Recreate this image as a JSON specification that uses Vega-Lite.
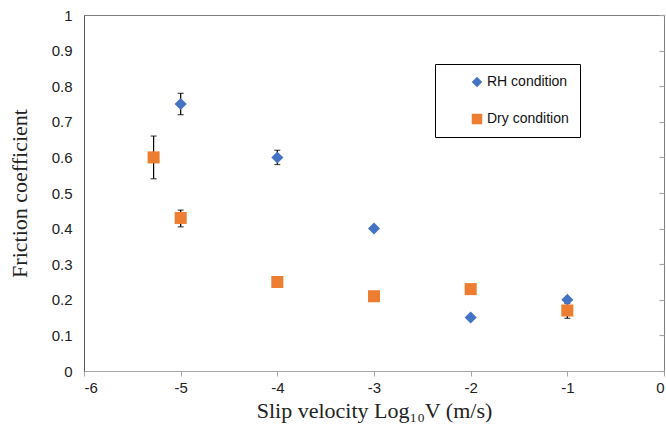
{
  "$schema": "https://vega.github.io/schema/vega-lite/v6.json",
  "width": 580,
  "height": 356,
  "autosize": {"type": "none"},
  "padding": {"left": 84, "top": 15, "right": 2, "bottom": 60},
  "background": "white",
  "config": {
    "view": {"stroke": "#7f7f7f", "strokeWidth": 1},
    "axis": {"grid": false, "labelFont": "Liberation Sans", "labelFontSize": 15, "labelColor": "#222222", "titleFont": "Liberation Serif", "titleFontSize": 22, "titleFontWeight": "normal", "titleColor": "#222222"}
  },
  "data": {
    "values": [
      {"series": "RH condition", "x": -5, "y": 0.75, "lo": 0.72, "hi": 0.78},
      {"series": "RH condition", "x": -4, "y": 0.60, "lo": 0.58, "hi": 0.62},
      {"series": "RH condition", "x": -3, "y": 0.40, "lo": null, "hi": null},
      {"series": "RH condition", "x": -2, "y": 0.15, "lo": null, "hi": null},
      {"series": "RH condition", "x": -1, "y": 0.20, "lo": null, "hi": null},
      {"series": "Dry condition", "x": -5.28, "y": 0.60, "lo": 0.54, "hi": 0.66},
      {"series": "Dry condition", "x": -5, "y": 0.43, "lo": 0.405, "hi": 0.452},
      {"series": "Dry condition", "x": -4, "y": 0.25, "lo": null, "hi": null},
      {"series": "Dry condition", "x": -3, "y": 0.21, "lo": null, "hi": null},
      {"series": "Dry condition", "x": -2, "y": 0.23, "lo": null, "hi": null},
      {"series": "Dry condition", "x": -1, "y": 0.17, "lo": 0.148, "hi": 0.19}
    ]
  },
  "resolve": {"axis": {"y": "independent"}},
  "layer": [
    {
      "transform": [{"filter": "isValid(datum.lo)"}],
      "mark": {"type": "errorbar", "color": "black", "ticks": {"size": 6, "thickness": 1.2}, "rule": {"strokeWidth": 1.2}},
      "encoding": {
        "x": {"field": "x", "type": "quantitative", "scale": {"domain": [-6, 0], "nice": false}, "title": "Slip velocity Log₁₀V (m/s)",
          "axis": {"values": [-6, -5, -4, -3, -2, -1, 0], "labelExpr": "datum.value < 0 ? '-' + abs(datum.value) : '' + datum.value", "domainColor": "#a6a6a6", "tickColor": "#a6a6a6", "tickSize": 5, "labelPadding": 4, "titlePadding": 5}},
        "y": {"field": "lo", "type": "quantitative", "scale": {"domain": [0, 1], "nice": false}, "title": "Friction coefficient", "axis": null},
        "y2": {"field": "hi"}
      }
    },
    {
      "mark": {"type": "point", "filled": true, "opacity": 1, "strokeWidth": 0},
      "encoding": {
        "x": {"field": "x", "type": "quantitative", "scale": {"domain": [-6, 0], "nice": false}, "title": "Slip velocity Log₁₀V (m/s)",
          "axis": {"values": [-6, -5, -4, -3, -2, -1, 0], "labelExpr": "datum.value < 0 ? '-' + abs(datum.value) : '' + datum.value", "domainColor": "#a6a6a6", "tickColor": "#a6a6a6", "tickSize": 5, "labelPadding": 4, "titlePadding": 5}},
        "y": {"field": "y", "type": "quantitative", "scale": {"domain": [0, 1], "nice": false}, "title": "Friction coefficient",
          "axis": {"values": [0, 0.1, 0.2, 0.3, 0.4, 0.5, 0.6, 0.7, 0.8, 0.9, 1], "format": ".1~f", "domainColor": "#595959", "tickSize": 0, "labelPadding": 12, "titlePadding": 20}},
        "color": {"field": "series", "type": "nominal", "scale": {"domain": ["RH condition", "Dry condition"], "range": ["#4472C4", "#ED7D31"]},
          "legend": {"orient": "none", "legendX": 351, "legendY": 49, "title": null, "strokeColor": "black", "fillColor": "white", "padding": 11, "rowPadding": 23, "symbolOffset": 24, "symbolSize": 110, "symbolStrokeWidth": 0, "labelOffset": 3, "labelFont": "Liberation Sans", "labelFontSize": 14, "labelColor": "#111111", "labelExpr": "datum.label + '\u00a0\u00a0\u00a0\u00a0\u00a0\u00a0\u00a0'"}},
        "shape": {"field": "series", "type": "nominal", "scale": {"domain": ["RH condition", "Dry condition"], "range": ["diamond", "square"]}},
        "size": {"value": 145}
      }
    },
    {
      "mark": {"type": "point", "opacity": 0},
      "encoding": {
        "x": {"field": "x", "type": "quantitative", "scale": {"domain": [-6, 0], "nice": false}, "title": "Slip velocity Log₁₀V (m/s)",
          "axis": {"values": [-6, -5, -4, -3, -2, -1, 0], "labelExpr": "datum.value < 0 ? '-' + abs(datum.value) : '' + datum.value", "domainColor": "#a6a6a6", "tickColor": "#a6a6a6", "tickSize": 5, "labelPadding": 4, "titlePadding": 5}},
        "y": {"field": "y", "type": "quantitative", "scale": {"domain": [0, 1], "nice": false}, "title": null,
          "axis": {"orient": "right", "offset": -5, "values": [0, 0.1, 0.2, 0.3, 0.4, 0.5, 0.6, 0.7, 0.8, 0.9, 1], "labels": false, "domain": false, "ticks": true, "tickColor": "#a6a6a6", "tickSize": 5, "tickWidth": 1.2}}
      }
    }
  ]
}
